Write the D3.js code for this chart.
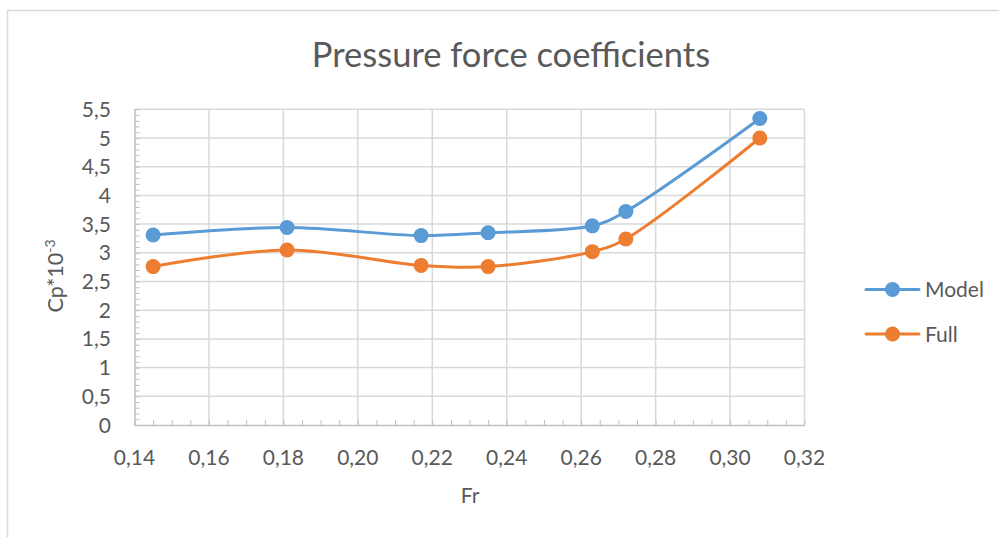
<!DOCTYPE html>
<html>
<head>
<meta charset="utf-8">
<script src="https://cdn.jsdelivr.net/npm/d3@7"></script>
<style>
  body { margin: 0; background: #fff; }
  text { font-family: Lato, "Open Sans", sans-serif; fill: #595959; }
</style>
</head>
<body>
<div id="vis"></div>
<script>
const fr = [0.145, 0.181, 0.217, 0.235, 0.263, 0.272, 0.308];
const model = [3.31, 3.44, 3.30, 3.35, 3.47, 3.72, 5.34];
const full = [2.76, 3.05, 2.78, 2.76, 3.02, 3.24, 5.00];
const xTicks = [0.14, 0.16, 0.18, 0.20, 0.22, 0.24, 0.26, 0.28, 0.30, 0.32];
const yTicks = [0, 0.5, 1, 1.5, 2, 2.5, 3, 3.5, 4, 4.5, 5, 5.5];
const seriesNames = ["Model", "Full"];
const seriesColors = ["#5b9bd5", "#ed7d31"];

const W = 999, H = 537;
const plot = { left: 134.5, right: 804.5, top: 109.3, bottom: 425 };

const svg = d3.select("#vis").append("svg")
  .attr("width", W)
  .attr("height", H);

// chart border (runs off the right / bottom edge)
svg.append("rect")
  .attr("x", 7.5).attr("y", 10.5)
  .attr("width", W + 20).attr("height", H + 20)
  .attr("fill", "none")
  .attr("stroke", "#d9d9d9")
  .attr("stroke-width", 1.5);

const x = d3.scaleLinear().domain([0.14, 0.32]).range([plot.left, plot.right]);
const y = d3.scaleLinear().domain([0, 5.5]).range([plot.bottom, plot.top]);

const comma = s => s.replace(".", ",");
const fmtX = d => comma(d3.format(".2f")(d));
const fmtY = d => comma(String(d));

// gridlines
svg.append("g").selectAll("line")
  .data(yTicks.slice(1))
  .join("line")
  .attr("x1", plot.left).attr("x2", plot.right)
  .attr("y1", d => y(d)).attr("y2", d => y(d))
  .attr("stroke", "#d9d9d9").attr("stroke-width", 1.5);

svg.append("g").selectAll("line")
  .data(xTicks.slice(1))
  .join("line")
  .attr("x1", d => x(d)).attr("x2", d => x(d))
  .attr("y1", plot.top).attr("y2", plot.bottom)
  .attr("stroke", "#d9d9d9").attr("stroke-width", 1.5);

// axes with inner minor ticks
const xMinor = d3.range(0.14, 0.3201, 0.005);
const yMinor = d3.range(0, 5.501, 0.1);

const xAxis = svg.append("g")
  .attr("transform", `translate(0,${plot.bottom})`)
  .call(d3.axisBottom(x).tickValues(xMinor).tickSize(-5).tickFormat("").tickSizeOuter(0));
const yAxis = svg.append("g")
  .attr("transform", `translate(${plot.left},0)`)
  .call(d3.axisLeft(y).tickValues(yMinor).tickSize(-5).tickFormat("").tickSizeOuter(0));
[xAxis, yAxis].forEach(g => {
  g.select(".domain").attr("stroke", "#bfbfbf").attr("stroke-width", 1.5);
  g.selectAll(".tick line").attr("stroke", "#bfbfbf").attr("stroke-width", 1);
});

// tick labels
svg.append("g").selectAll("text")
  .data(xTicks)
  .join("text")
  .attr("x", d => x(d))
  .attr("y", 465)
  .attr("text-anchor", "middle")
  .attr("font-size", 21)
  .text(fmtX);

svg.append("g").selectAll("text")
  .data(yTicks)
  .join("text")
  .attr("x", 111)
  .attr("y", d => y(d) + 7.5)
  .attr("text-anchor", "end")
  .attr("font-size", 21)
  .text(fmtY);

// titles
svg.append("text")
  .attr("x", 511).attr("y", 66.5)
  .attr("text-anchor", "middle")
  .attr("font-size", 34.5)
  .text("Pressure force coefficients");

svg.append("text")
  .attr("x", 470).attr("y", 503)
  .attr("text-anchor", "middle")
  .attr("font-size", 21)
  .text("Fr");

const yl = svg.append("text")
  .attr("transform", "translate(63,276) rotate(-90)")
  .attr("text-anchor", "middle")
  .attr("font-size", 21.5);
yl.append("tspan").text("Cp*10");
yl.append("tspan").attr("font-size", 14).attr("dy", -8).text("-3");

// series
const series = [model, full];
const line = d3.line()
  .x((d, i) => x(fr[i]))
  .y(d => y(d))
  .curve(d3.curveCatmullRom.alpha(0.5));

series.forEach((vals, s) => {
  svg.append("path")
    .datum(vals)
    .attr("d", line)
    .attr("fill", "none")
    .attr("stroke", seriesColors[s])
    .attr("stroke-width", 3)
    .attr("stroke-linecap", "round");
  svg.append("g").selectAll("circle")
    .data(vals)
    .join("circle")
    .attr("cx", (d, i) => x(fr[i]))
    .attr("cy", d => y(d))
    .attr("r", 7.5)
    .attr("fill", seriesColors[s]);
});

// legend
const legend = svg.append("g").selectAll("g")
  .data(seriesNames)
  .join("g")
  .attr("transform", (d, i) => `translate(0,${289.5 + i * 44.5})`);
legend.append("line")
  .attr("x1", 866).attr("x2", 919)
  .attr("stroke", (d, i) => seriesColors[i])
  .attr("stroke-width", 3)
  .attr("stroke-linecap", "round");
legend.append("circle")
  .attr("cx", 892.5).attr("r", 7.5)
  .attr("fill", (d, i) => seriesColors[i]);
legend.append("text")
  .attr("x", 925).attr("y", 7.5)
  .attr("font-size", 21)
  .text(d => d);
</script>
</body>
</html>
